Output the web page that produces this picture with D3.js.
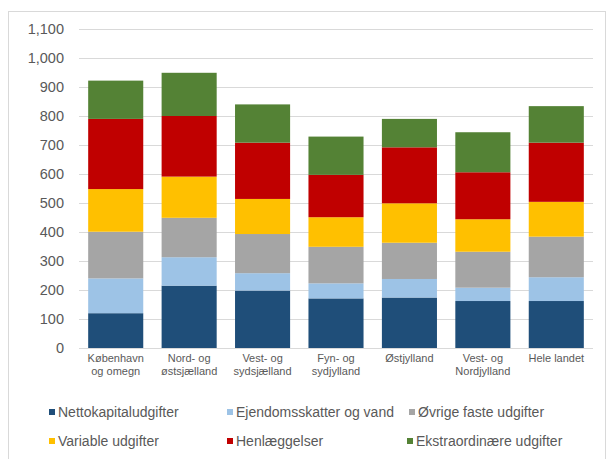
<!DOCTYPE html>
<html>
<head>
<meta charset="utf-8">
<script src="https://cdn.jsdelivr.net/npm/d3@7"></script>
<style>
  body { margin: 0; background: #fff; }
  svg { display: block; font-family: "Liberation Sans", Arial, sans-serif; }
</style>
</head>
<body>
<div id="chart"></div>
<script>
"use strict";

// regions along the x axis
var regions = [
  ["København", "og omegn"],
  ["Nord- og", "østsjælland"],
  ["Vest- og", "sydsjælland"],
  ["Fyn- og", "sydjylland"],
  ["Østjylland"],
  ["Vest- og", "Nordjylland"],
  ["Hele landet"]
];

var seriesNames = [
  "Nettokapitaludgifter",
  "Ejendomsskatter og vand",
  "Øvrige faste udgifter",
  "Variable udgifter",
  "Henlæggelser",
  "Ekstraordinære udgifter"
];

// one array per series, one value per region
var nettokapital   = [120, 215, 198, 171, 174, 162, 162];
var ejendomsskat   = [120,  98,  60,  52,  64,  46,  82];
var oevrigeFaste   = [161, 136, 135, 126, 125, 124, 140];
var variable       = [147, 142, 121, 102, 136, 112, 120];
var henlaeggelser  = [242, 209, 194, 146, 193, 162, 204];
var ekstraordinaer = [132, 149, 132, 132,  98, 138, 126];

var yTicks = [0, 100, 200, 300, 400, 500, 600, 700, 800, 900, 1000, 1100];

var colors = ["#1f4e79", "#9dc3e6", "#a5a5a5", "#ffc000", "#c00000", "#548235"];

var width = 607, height = 459;
var margin = {top: 29, right: 14, bottom: 111, left: 79};

var allSeries = [nettokapital, ejendomsskat, oevrigeFaste, variable, henlaeggelser, ekstraordinaer];
var rows = regions.map(function (r, i) {
  var row = {region: r.join(" ")};
  seriesNames.forEach(function (s, k) { row[s] = allSeries[k][i]; });
  return row;
});

var svg = d3.select("#chart").append("svg")
    .attr("width", width)
    .attr("height", height);

// chart frame
svg.append("rect")
    .attr("x", 8.5).attr("y", 11.5)
    .attr("width", 597).attr("height", 460)
    .attr("fill", "none")
    .attr("stroke", "#d9d9d9");

var x = d3.scaleBand()
    .domain(rows.map(function (d) { return d.region; }))
    .range([margin.left, width - margin.right])
    .paddingInner(0.25)
    .paddingOuter(0.125);

var y = d3.scaleLinear()
    .domain([0, 1100])
    .range([height - margin.bottom, margin.top]);

// gridlines
svg.append("g")
    .selectAll("line")
    .data(yTicks)
    .join("line")
    .attr("x1", margin.left)
    .attr("x2", width - margin.right)
    .attr("y1", function (d) { return Math.round(y(d)) + 0.5; })
    .attr("y2", function (d) { return Math.round(y(d)) + 0.5; })
    .attr("stroke", "#d9d9d9");

var stack = d3.stack().keys(seriesNames);
var stacked = stack(rows);

svg.append("g")
    .selectAll("g")
    .data(stacked)
    .join("g")
    .attr("fill", function (d, i) { return colors[i]; })
    .selectAll("rect")
    .data(function (d) { return d; })
    .join("rect")
    .attr("x", function (d) { return x(d.data.region); })
    .attr("y", function (d) { return y(d[1]); })
    .attr("width", x.bandwidth())
    .attr("height", function (d) { return y(d[0]) - y(d[1]); });

// y axis labels
var yAxis = d3.axisLeft(y)
    .tickValues(yTicks)
    .tickSize(0)
    .tickPadding(15)
    .tickFormat(d3.format(","));

svg.append("g")
    .attr("transform", "translate(" + margin.left + ",0)")
    .call(yAxis)
    .call(function (g) { g.select(".domain").remove(); })
    .selectAll("text")
    .attr("font-family", "Liberation Sans, Arial, sans-serif")
    .attr("font-size", 14.5)
    .attr("fill", "#595959");

// x axis labels (two lines)
var xLabels = svg.append("g")
    .selectAll("text")
    .data(regions)
    .join("text")
    .attr("x", function (d) { return x(d.join(" ")) + x.bandwidth() / 2; })
    .attr("y", height - margin.bottom + 14)
    .attr("text-anchor", "middle")
    .attr("font-size", 11)
    .attr("fill", "#595959");

xLabels.selectAll("tspan")
    .data(function (d) { return d; })
    .join("tspan")
    .attr("x", function () { return d3.select(this.parentNode).attr("x"); })
    .attr("dy", function (d, i) { return i === 0 ? 0 : 13; })
    .text(function (d) { return d; });

// legend
var legendPos = [[49, 417], [227, 417], [409, 417], [49, 446], [227, 446], [407, 446]];
var legend = svg.append("g")
    .selectAll("g")
    .data(seriesNames)
    .join("g")
    .attr("transform", function (d, i) { return "translate(" + legendPos[i][0] + "," + legendPos[i][1] + ")"; });

legend.append("rect")
    .attr("x", 0).attr("y", -8)
    .attr("width", 6).attr("height", 6)
    .attr("fill", function (d, i) { return colors[i]; });

legend.append("text")
    .attr("x", 9)
    .attr("y", 0)
    .attr("font-size", 14)
    .attr("fill", "#595959")
    .text(function (d) { return d; });
</script>
</body>
</html>
